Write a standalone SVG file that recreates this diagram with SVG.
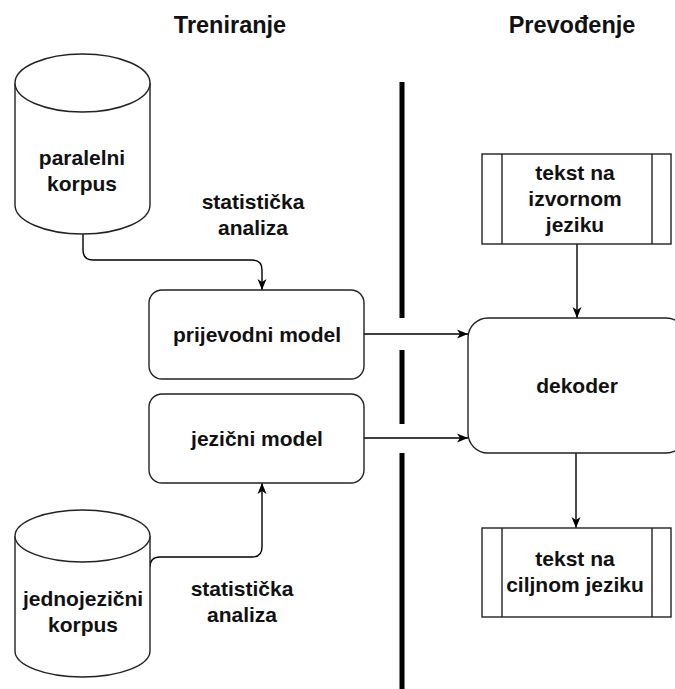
<svg xmlns="http://www.w3.org/2000/svg" width="675" height="689" viewBox="0 0 675 689">
<defs>
<style>
.shape{fill:#fff;stroke:#222;stroke-width:1.4}
.edge{fill:none;stroke:#000;stroke-width:1.4}
.t{font-family:"Liberation Sans",Arial,sans-serif;font-weight:bold;font-size:21px;fill:#111;text-anchor:middle}
.h{font-family:"Liberation Sans",Arial,sans-serif;font-weight:bold;font-size:23.5px;fill:#111;text-anchor:middle}
.div{stroke:#000;stroke-width:5}
</style>
<marker id="arr" markerUnits="userSpaceOnUse" markerWidth="12" markerHeight="10" refX="11" refY="5" orient="auto">
<path d="M0,0.5 L11,5 L0,9.5 L3,5 Z" fill="#000"/>
</marker>
</defs>
<rect width="675" height="689" fill="#fff"/>
<g id="headers">
<text class="h" x="230" y="33">Treniranje</text>
<text class="h" x="572" y="33">Prevođenje</text>
</g>
<g id="divider">
<line class="div" x1="402" y1="82" x2="402" y2="318"/>
<line class="div" x1="402" y1="350" x2="402" y2="424"/>
<line class="div" x1="402" y1="453" x2="402" y2="689"/>
</g>
<g id="connectors">
<path class="edge" d="M83,234 V250 Q83,260 93,260 H252 Q262,260 262,270 V290" marker-end="url(#arr)"/>
<path class="edge" d="M150,567 Q150,557 160,557 H252 Q262,557 262,547 V483" marker-end="url(#arr)"/>
<path class="edge" d="M364,334 H468" marker-end="url(#arr)"/>
<path class="edge" d="M364,438 H468" marker-end="url(#arr)"/>
<path class="edge" d="M577,244 V318" marker-end="url(#arr)"/>
<path class="edge" d="M576,453 V528" marker-end="url(#arr)"/>
<text class="t" x="253" y="209">statistička</text>
<text class="t" x="253" y="235">analiza</text>
<text class="t" x="242" y="596">statistička</text>
<text class="t" x="242" y="622">analiza</text>
</g>
<g id="paralelni-korpus">
<path class="shape" d="M15,83 V205 A67.5,29 0 0 0 150,205 V83 A67.5,29 0 0 0 15,83 Z"/>
<path class="shape" d="M15,83 A67.5,29 0 0 0 150,83"/>
<text class="t" x="82" y="165">paralelni</text>
<text class="t" x="82" y="191">korpus</text>
</g>
<g id="jednojezicni-korpus">
<path class="shape" d="M15,536 V651 A67.5,26 0 0 0 150,651 V536 A67.5,26 0 0 0 15,536 Z"/>
<path class="shape" d="M15,536 A67.5,26 0 0 0 150,536"/>
<text class="t" x="83" y="606">jednojezični</text>
<text class="t" x="83" y="632">korpus</text>
</g>
<g id="prijevodni-model">
<rect class="shape" x="149" y="290" width="215" height="89" rx="13"/>
<text class="t" x="257" y="342">prijevodni model</text>
</g>
<g id="jezicni-model">
<rect class="shape" x="149" y="394" width="215" height="89" rx="13"/>
<text class="t" x="257" y="446">jezični model</text>
</g>
<g id="izvorni-tekst">
<rect class="shape" x="482" y="154" width="189" height="90"/>
<line class="shape" x1="502" y1="154" x2="502" y2="244"/>
<line class="shape" x1="652" y1="154" x2="652" y2="244"/>
<text class="t" x="575" y="180">tekst na</text>
<text class="t" x="575" y="206">izvornom</text>
<text class="t" x="575" y="232">jeziku</text>
</g>
<g id="dekoder">
<rect class="shape" x="468" y="318" width="218" height="135" rx="20"/>
<text class="t" x="577" y="393">dekoder</text>
</g>
<g id="ciljni-tekst">
<rect class="shape" x="482" y="528" width="189" height="89"/>
<line class="shape" x1="502" y1="528" x2="502" y2="617"/>
<line class="shape" x1="652" y1="528" x2="652" y2="617"/>
<text class="t" x="575" y="566">tekst na</text>
<text class="t" x="575" y="592">ciljnom jeziku</text>
</g>
</svg>
